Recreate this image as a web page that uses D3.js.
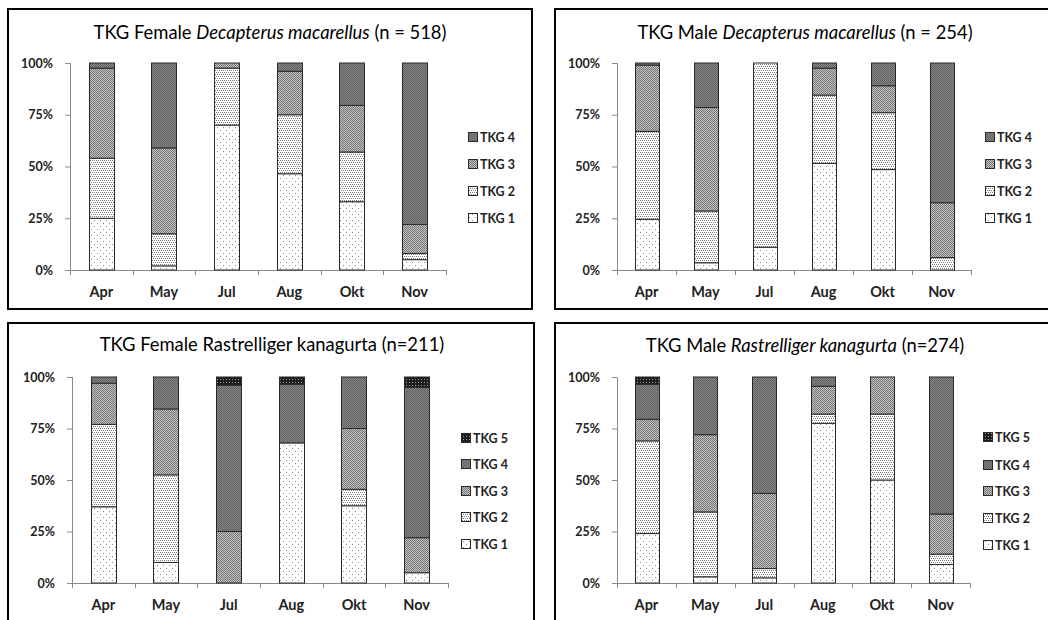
<!DOCTYPE html>
<html><head><meta charset="utf-8">
<script src="https://cdn.jsdelivr.net/npm/d3@7"></script>
<style>
html,body{margin:0;padding:0;background:#fff;}
svg{display:block;}
text{font-family:Lato,"Open Sans",sans-serif;}
</style></head>
<body>
<svg id="c" width="1048" height="620"></svg>
<script>
const months = ["Apr","May","Jul","Aug","Okt","Nov"];
const yTicks = [0, 25, 50, 75, 100];
const yTickLabels = ["0%","25%","50%","75%","100%"];
const seriesNames4 = ["TKG 1","TKG 2","TKG 3","TKG 4"];
const seriesNames5 = ["TKG 1","TKG 2","TKG 3","TKG 4","TKG 5"];

// TKG Female Decapterus macarellus (n = 518)
const fdTKG1 = [25, 2, 70, 46.5, 33, 5];
const fdTKG2 = [29, 15.5, 27.5, 28.5, 24, 3];
const fdTKG3 = [43.5, 41.5, 2.5, 21, 22.5, 14];
const fdTKG4 = [2.5, 41, 0, 4, 20.5, 78];

// TKG Male Decapterus macarellus (n = 254)
const mdTKG1 = [24.5, 3.5, 11, 51.5, 48.5, 0];
const mdTKG2 = [42.5, 25, 89, 33, 27.5, 6];
const mdTKG3 = [32, 50, 0, 13, 13, 26.5];
const mdTKG4 = [1, 21.5, 0, 2.5, 11, 67.5];

// TKG Female Rastrelliger kanagurta (n=211)
const frTKG1 = [37, 10, 0, 68, 37.5, 5];
const frTKG2 = [40, 42.5, 0, 0, 8, 0];
const frTKG3 = [20, 32, 25, 0, 29.5, 17];
const frTKG4 = [3, 15.5, 71, 28.5, 25, 73];
const frTKG5 = [0, 0, 4, 3.5, 0, 5];

// TKG Male Rastrelliger kanagurta (n=274)
const mrTKG1 = [24, 3, 2.5, 77.5, 50, 9];
const mrTKG2 = [45, 31.5, 4.5, 4.5, 32, 5];
const mrTKG3 = [10.5, 37.5, 36.5, 13.5, 18, 19.5];
const mrTKG4 = [17, 28, 56.5, 4.5, 0, 66.5];
const mrTKG5 = [3.5, 0, 0, 0, 0, 0];

const svg = d3.select("#c");
const defs = svg.append("defs");

// pixel patterns
function pat(id, w, h, bg, pts, col){
  const p = defs.append("pattern").attr("id", id).attr("patternUnits","userSpaceOnUse")
    .attr("width", w).attr("height", h);
  p.append("rect").attr("width", w).attr("height", h).attr("fill", bg);
  pts.forEach(([x,y]) => p.append("rect").attr("x",x).attr("y",y).attr("width",1).attr("height",1).attr("fill",col));
}
pat("p1", 6, 6, "#ffffff", [[1,1],[4,4]], "#8a8a8a");
pat("p2", 4, 4, "#ffffff", [[0,0],[2,0],[1,2],[3,2]], "#7e7e7e");
pat("p3", 2, 2, "#c2c2c2", [[0,0],[1,1]], "#767676");
pat("p4", 2, 2, "#848484", [[0,0],[1,1]], "#626262");
pat("p5", 3, 3, "#1e1e1e", [[1,1]], "#9a9a9a");
const fills = ["url(#p1)","url(#p2)","url(#p3)","url(#p4)","url(#p5)"];

const panels = [
  { box:[8,9,524,300], titleX:270, titleY:39,
    title:[["TKG Female ",false],["Decapterus macarellus",true],[" (n = 518)",false]],
    x0:70, x1:446, yTop:63, yBot:270, monthY:297,
    series:[fdTKG1,fdTKG2,fdTKG3,fdTKG4], names:seriesNames4,
    legX:468, legY:[218,191,164,137] },
  { box:[555,9,520,300], titleX:805, titleY:39,
    title:[["TKG Male ",false],["Decapterus  macarellus",true],[" (n = 254)",false]],
    x0:617, x1:971, yTop:63, yBot:270, monthY:297,
    series:[mdTKG1,mdTKG2,mdTKG3,mdTKG4], names:seriesNames4,
    legX:985, legY:[218,191,164,137] },
  { box:[8,323,526,320], titleX:272, titleY:351,
    title:[["TKG Female Rastrelliger kanagurta  (n=211)",false]],
    x0:72, x1:448, yTop:377, yBot:583, monthY:610,
    series:[frTKG1,frTKG2,frTKG3,frTKG4,frTKG5], names:seriesNames5,
    legX:461, legY:[544,517,491,464,438] },
  { box:[555,323,520,320], titleX:805, titleY:352,
    title:[["TKG Male ",false],["Rastrelliger kanagurta",true],[" (n=274)",false]],
    x0:617, x1:970, yTop:377, yBot:583, monthY:610,
    series:[mrTKG1,mrTKG2,mrTKG3,mrTKG4,mrTKG5], names:seriesNames5,
    legX:983, legY:[545,518,491,465,437] }
];

panels.forEach(P => {
  const g = svg.append("g");
  g.append("rect").attr("x",P.box[0]).attr("y",P.box[1]).attr("width",P.box[2]).attr("height",P.box[3])
    .attr("fill","none").attr("stroke","#000").attr("stroke-width",2);

  const t = g.append("text").attr("x",P.titleX).attr("y",P.titleY).attr("text-anchor","middle")
    .attr("font-size",18.4).attr("fill","#000");
  P.title.forEach(([s,it]) => t.append("tspan").text(s).attr("font-style", it ? "italic" : "normal"));

  const x = d3.scaleBand().domain(months).range([P.x0, P.x1]).padding(0);
  const y = d3.scaleLinear().domain([0,100]).range([P.yBot, P.yTop]);
  const bw = x.bandwidth()*0.4;

  const rows = months.map((m,i) => { const o = {month:m}; P.series.forEach((s,k)=> o["s"+k] = s[i]); return o; });
  const keys = P.series.map((s,k)=>"s"+k);
  const stacked = d3.stack().keys(keys)(rows);

  // y axis
  const ya = g.append("g").attr("transform",`translate(${P.x0},0)`)
    .call(d3.axisLeft(y).tickValues(yTicks).tickFormat((d,i)=>yTickLabels[i]).tickSizeOuter(0).tickSize(5).tickPadding(12));
  ya.select(".domain").attr("stroke","#8a8a8a");
  ya.selectAll(".tick line").attr("stroke","#8a8a8a");
  ya.selectAll(".tick text").attr("font-size",12.5).attr("font-weight","bold").attr("fill","#222")
    .attr("font-family","Lato,sans-serif");

  // x axis
  const xa = g.append("g").attr("transform",`translate(0,${P.yBot})`)
    .call(d3.axisBottom(x).tickSize(0).tickPadding(17).tickSizeOuter(0));
  xa.select(".domain").attr("stroke","#8a8a8a");
  xa.selectAll(".tick text").attr("font-size",14.5).attr("font-weight","bold").attr("fill","#222")
    .attr("font-family","Lato,sans-serif");
  const bounds = months.map(m => x(m)).concat([P.x1]);
  g.append("g").selectAll("line").data(bounds).join("line")
    .attr("x1",d=>Math.round(d)+0.5).attr("x2",d=>Math.round(d)+0.5)
    .attr("y1",P.yBot).attr("y2",P.yBot+5).attr("stroke","#8a8a8a");

  // bars
  stacked.forEach((layer,k) => {
    g.append("g").selectAll("rect").data(layer.filter(d=>d[1]-d[0]>0)).join("rect")
      .attr("x", d => Math.round(x(d.data.month) + (x.bandwidth()-bw)/2) + 0.5)
      .attr("width", Math.round(bw))
      .attr("y", d => y(d[1]))
      .attr("height", d => y(d[0]) - y(d[1]))
      .attr("fill", fills[k]).attr("stroke","#2a2a2a").attr("stroke-width",1);
  });

  // legend
  P.names.forEach((n,k) => {
    const cy = P.legY[k];
    g.append("rect").attr("x",P.legX+0.5).attr("y",cy-4.5).attr("width",9).attr("height",9)
      .attr("fill",fills[k]).attr("stroke","#2a2a2a").attr("stroke-width",1);
    g.append("text").attr("x",P.legX+12).attr("y",cy+4.5).text(n)
      .attr("font-size",12.5).attr("font-weight","bold").attr("fill","#222");
  });
});
</script>
</body></html>
